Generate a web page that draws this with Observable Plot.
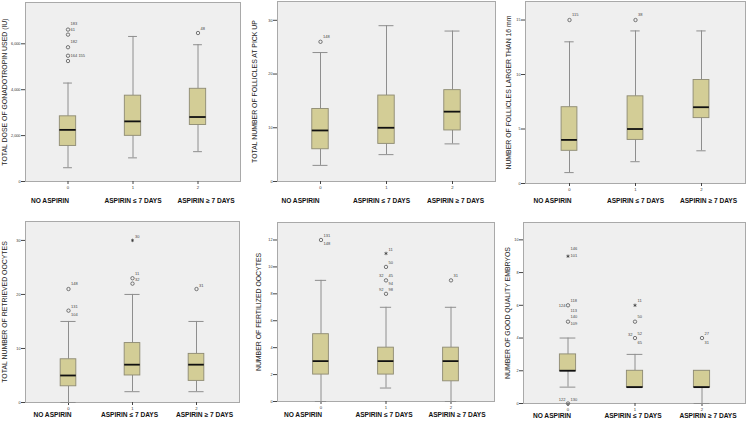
<!DOCTYPE html>
<html><head><meta charset="utf-8">
<script src="https://cdn.jsdelivr.net/npm/d3@7"></script>
<script src="https://cdn.jsdelivr.net/npm/@observablehq/plot@0.6"></script>
<style>
html,body{margin:0;padding:0;background:#fff;}
#wrap{position:relative;width:746px;height:424px;overflow:hidden;}
.panel{position:absolute;}
</style></head><body><div id="wrap"></div>
<script>
const categories = ["0", "1", "2"];
const groupNames = ["NO ASPIRIN", "ASPIRIN ≤ 7 DAYS", "ASPIRIN ≥ 7 DAYS"];

// per group: [lower whisker, Q1, median, Q3, upper whisker]
const gonadotropinStats = [[600, 1550, 2250, 2840, 4290], [1030, 1990, 2620, 3740, 6320], [1300, 2460, 2810, 4040, 5960]];
const gonadotropinOutliers = [["0", 5250, "o"], ["0", 5480, "o"], ["0", 5850, "o"], ["0", 6400, "o"], ["0", 6620, "o"], ["2", 6470, "o"]];
const gonadotropinLabels = [["0", 6870, "183", 1], ["0", 6620, "61", 1], ["0", 6070, "182", 1], ["0", 5480, "164 155", 1], ["2", 6650, "48", 1]];
const gonadotropinTicks = [0, 2000, 4000, 6000];

const folliclesStats = [[3, 6, 9.5, 13.5, 24], [5, 7, 10, 16, 29], [7, 9.5, 13, 17, 28]];
const folliclesOutliers = [["0", 26, "o"]];
const folliclesLabels = [["0", 27, "148", 1]];
const folliclesTicks = [0, 10, 20, 30];

const largeFolliclesStats = [[1, 3, 4, 7, 13], [2, 4, 5, 8, 14], [3, 6, 7, 9.5, 14]];
const largeFolliclesOutliers = [["0", 15, "o"], ["1", 15, "o"]];
const largeFolliclesLabels = [["0", 15.5, "115", 1], ["1", 15.5, "38", 1]];
const largeFolliclesTicks = [0, 5, 10, 15];

const retrievedStats = [[0, 3, 5, 8, 15], [2, 5, 7, 11, 20], [2, 4, 7, 9, 15]];
const retrievedOutliers = [["0", 17, "o"], ["0", 21, "o"], ["1", 22, "o"], ["1", 23, "o"], ["1", 30, "*"], ["2", 21, "o"]];
const retrievedLabels = [["0", 21.9, "148", 1], ["0", 17.7, "131", 1], ["0", 16.2, "104", 1], ["1", 30.6, "30", 1], ["1", 23.8, "11", 1], ["1", 22.8, "32", 1], ["2", 21.7, "31", 1]];
const retrievedTicks = [0, 10, 20, 30];

const fertilizedStats = [[0, 2, 3, 5, 9], [1, 2, 3, 4, 7], [0, 1.5, 3, 4, 7]];
const fertilizedOutliers = [["0", 12, "o"], ["1", 8, "o"], ["1", 9, "o"], ["1", 10, "o"], ["1", 11, "*"], ["2", 9, "o"]];
const fertilizedLabels = [["0", 12.35, "131", 1], ["0", 11.7, "148", 1], ["1", 11.3, "11", 1], ["1", 10.3, "50", 1], ["1", 9.33, "32", -1], ["1", 9.33, "45", 1], ["1", 8.75, "94", 1], ["1", 8.3, "92", -1], ["1", 8.3, "98", 1], ["2", 9.33, "31", 1]];
const fertilizedTicks = [0, 2, 4, 6, 8, 10, 12];

const embryosStats = [[1, 2, 2, 3, 4], [1, 1, 1, 2, 3], [0, 1, 1, 2, 2]];
const embryosOutliers = [["0", 0, "o"], ["0", 5, "o"], ["0", 6, "o"], ["0", 9, "*"], ["1", 4, "o"], ["1", 5, "o"], ["1", 6, "*"], ["2", 4, "o"]];
const embryosLabels = [["0", 9.47, "146", 1], ["0", 9.06, "101", 1], ["0", 6.29, "118", 1], ["0", 6.0, "124", -1], ["0", 5.65, "113", 1], ["0", 5.29, "140", 1], ["0", 4.9, "109", 1], ["0", 0.24, "122", -1], ["0", 0.26, "130", 1], ["1", 6.29, "11", 1], ["1", 5.29, "50", 1], ["1", 4.22, "32", -1], ["1", 4.29, "52", 1], ["1", 3.71, "65", 1], ["2", 4.29, "27", 1], ["2", 3.71, "31", 1]];
const embryosTicks = [0, 2, 4, 6, 8, 10];

const panels = [
  {title: "TOTAL DOSE OF GONADOTROPIN USED (IU)", stats: gonadotropinStats, outliers: gonadotropinOutliers, labels: gonadotropinLabels, yTicks: gonadotropinTicks, yMax: 7800,
   left: 0, top: 0, width: 248, height: 212, ml: 25, mr: 8, mt: 2, mb: 31, titleX: 4.7, labelDy: 19, labelDx: [-18, 0, 8], capW: 9},
  {title: "TOTAL NUMBER OF FOLLICLES AT PICK UP", stats: folliclesStats, outliers: folliclesOutliers, labels: folliclesLabels, yTicks: folliclesTicks, yMax: 33.5,
   left: 248, top: 0, width: 248, height: 212, ml: 29, mr: 1, mt: 1, mb: 31, titleX: 6.7, labelDy: 19, labelDx: [-20, -5, 3], capW: 15},
  {title: "NUMBER OF FOLLICLES LARGER THAN 16 mm", stats: largeFolliclesStats, outliers: largeFolliclesOutliers, labels: largeFolliclesLabels, yTicks: largeFolliclesTicks, yMax: 16.7,
   left: 496, top: 0, width: 250, height: 212, ml: 29, mr: 1, mt: 1, mb: 29, titleX: 12.5, labelDy: 17, labelDx: [-17, 0, 7], capW: 10},
  {title: "TOTAL NUMBER OF RETRIEVED OOCYTES", stats: retrievedStats, outliers: retrievedOutliers, labels: retrievedLabels, yTicks: retrievedTicks, yMax: 33.5,
   left: 0, top: 212, width: 248, height: 212, ml: 25, mr: 9, mt: 9, mb: 22, titleX: 4.5, labelDy: 12.5, labelDx: [-16, -3, 8], capW: 16},
  {title: "NUMBER OF FERTILIZED OOCYTES", stats: fertilizedStats, outliers: fertilizedOutliers, labels: fertilizedLabels, yTicks: fertilizedTicks, yMax: 13.3,
   left: 248, top: 212, width: 248, height: 212, ml: 29, mr: 2, mt: 10, mb: 23, titleX: 10, labelDy: 13, labelDx: [-18, -2, 6], capW: 12},
  {title: "NUMBER OF GOOD QUALITY EMBRYOS", stats: embryosStats, outliers: embryosOutliers, labels: embryosLabels, yTicks: embryosTicks, yMax: 11.06,
   left: 496, top: 212, width: 250, height: 212, ml: 27, mr: 1, mt: 10, mb: 21, titleX: 11, labelDy: 12, labelDx: [-16, -2, 6], capW: 16}
];

const FONT = "'Liberation Sans', Arial, sans-serif";

function makePanel(p) {
  const rows = p.stats.map((s, i) => ({g: categories[i], lo: s[0], q1: s[1], med: s[2], q3: s[3], hi: s[4]}));
  const outs = p.outliers.map(([g, v, k]) => ({g, v, k}));
  const labs = p.labels.map(([g, v, t, side]) => ({g, v, t, side}));
  const innerW = p.width - p.ml - p.mr;
  const step = innerW / 3.3;
  const boxW = 16.5;
  const bi = (step - boxW) / 2;
  const ci = (step - p.capW) / 2;
  const whisker = "#8e8e8e";
  return Plot.plot({
    width: p.width, height: p.height,
    marginLeft: p.ml, marginRight: p.mr, marginTop: p.mt, marginBottom: p.mb,
    style: {background: "transparent", fontFamily: FONT, overflow: "visible", color: "#222"},
    x: {type: "band", domain: categories, paddingInner: 0, paddingOuter: 0.15},
    y: {domain: [0, p.yMax]},
    marks: [
      Plot.frame({fill: "#efefef", stroke: "#a9a9a9", strokeWidth: 1}),
      Plot.axisY({ticks: p.yTicks, tickSize: 4, tickPadding: 1, fontSize: 3.8, label: null, stroke: "#444", fill: "#333"}),
      Plot.axisX({tickSize: 3, tickPadding: 1.5, fontSize: 4.2, label: null, stroke: "#444", fill: "#333"}),
      Plot.ruleX(rows, {x: "g", y1: "lo", y2: "q1", stroke: whisker}),
      Plot.ruleX(rows, {x: "g", y1: "q3", y2: "hi", stroke: whisker}),
      Plot.tickY(rows, {x: "g", y: "lo", stroke: whisker, insetLeft: ci, insetRight: ci}),
      Plot.tickY(rows, {x: "g", y: "hi", stroke: whisker, insetLeft: ci, insetRight: ci}),
      Plot.barY(rows, {x: "g", y1: "q1", y2: "q3", fill: "#d3cd96", stroke: "#8d8a72", strokeWidth: 0.9, insetLeft: bi, insetRight: bi}),
      Plot.tickY(rows, {x: "g", y: "med", stroke: "#111", strokeWidth: 1.8, insetLeft: bi, insetRight: bi}),
      Plot.dot(outs.filter(d => d.k === "o"), {x: "g", y: "v", r: 1.7, stroke: "#444", strokeWidth: 0.7, fill: "none"}),
      Plot.dot(outs.filter(d => d.k === "*"), {x: "g", y: "v", r: 1.6, symbol: "asterisk", stroke: "#333", strokeWidth: 0.7}),
      Plot.text(labs.filter(d => d.side > 0), {x: "g", y: "v", text: "t", textAnchor: "start", dx: 2.6, fontSize: 4, fill: "#444"}),
      Plot.text(labs.filter(d => d.side < 0), {x: "g", y: "v", text: "t", textAnchor: "end", dx: -2.6, fontSize: 4, fill: "#444"}),
      Plot.text([p.title], {frameAnchor: "left", textAnchor: "middle", lineAnchor: "middle", rotate: -90, dx: p.titleX - p.ml, fontSize: 6.9, fill: "#222"}),
      ...groupNames.map((n, i) => Plot.text([{g: categories[i], n}], {x: "g", text: "n", frameAnchor: "bottom", lineAnchor: "middle", dy: p.labelDy, dx: p.labelDx[i], fontSize: 6.6, fontWeight: "bold", fill: "#111"}))
    ]
  });
}

const wrap = document.getElementById("wrap");
for (const p of panels) {
  const div = document.createElement("div");
  div.className = "panel";
  div.style.left = p.left + "px";
  div.style.top = p.top + "px";
  div.appendChild(makePanel(p));
  wrap.appendChild(div);
}
</script>
</body></html>
